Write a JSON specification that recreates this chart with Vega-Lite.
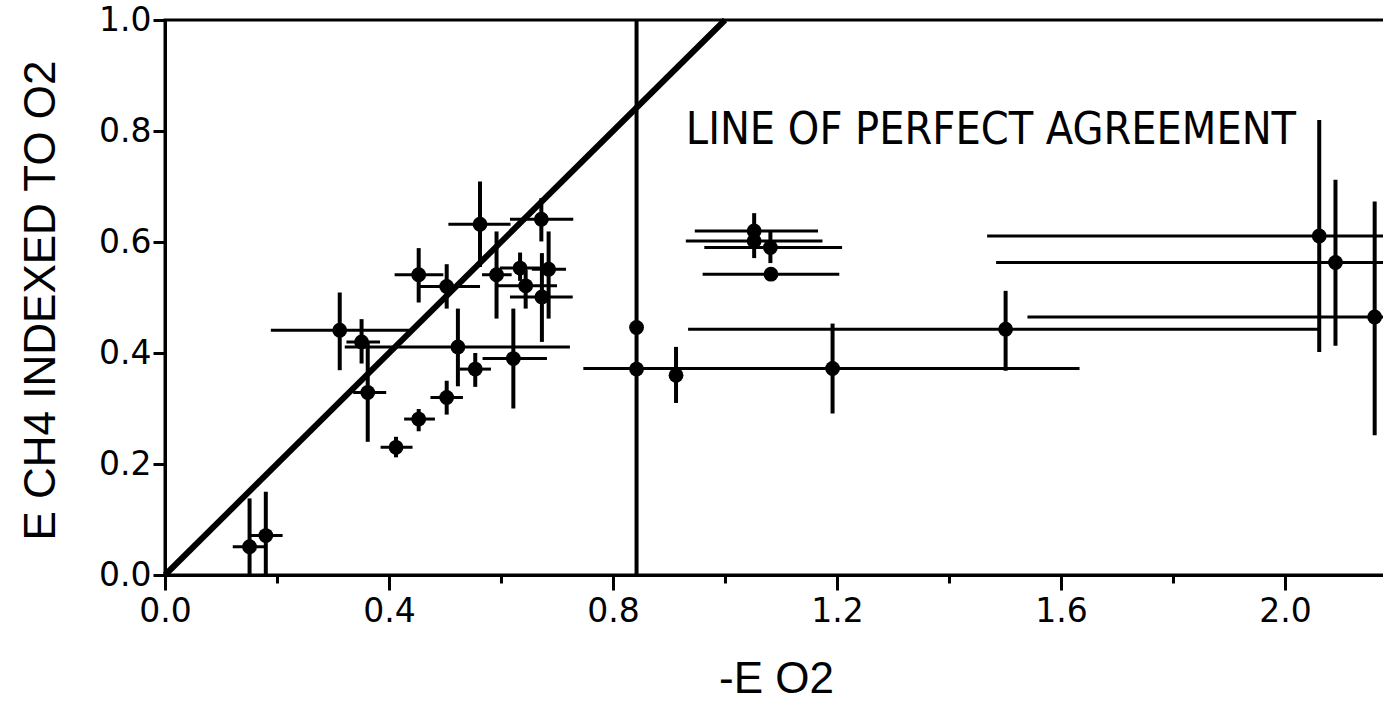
{
  "$schema": "https://vega.github.io/schema/vega-lite/v6.json",
  "width": 1222,
  "height": 555,
  "autosize": {"type": "none"},
  "padding": {"left": 165, "top": 20, "right": 0, "bottom": 128},
  "background": "white",
  "config": {
    "view": {"stroke": "black", "strokeWidth": 3},
    "axis": {"grid": false, "domainColor": "black", "domainWidth": 3, "tickColor": "black", "tickWidth": 3, "labelColor": "black", "titleColor": "black", "labelFont": "DejaVu Sans", "labelFontSize": 33, "titleFont": "Liberation Sans", "titleFontSize": 44, "titleFontWeight": "normal", "labelFlush": false, "labelOverlap": false}
  },
  "datasets": {
    "points": [
      {"x": 0.151, "y": 0.051, "xlo": 0.121, "xhi": 0.179, "ylo": -0.04, "yhi": 0.138},
      {"x": 0.180, "y": 0.071, "xlo": 0.152, "xhi": 0.210, "ylo": -0.01, "yhi": 0.150},
      {"x": 0.312, "y": 0.441, "xlo": 0.189, "xhi": 0.436, "ylo": 0.369, "yhi": 0.509},
      {"x": 0.351, "y": 0.420, "xlo": 0.324, "xhi": 0.384, "ylo": 0.381, "yhi": 0.461},
      {"x": 0.362, "y": 0.329, "xlo": 0.336, "xhi": 0.395, "ylo": 0.240, "yhi": 0.420},
      {"x": 0.4125, "y": 0.230, "xlo": 0.385, "xhi": 0.442, "ylo": 0.212, "yhi": 0.249},
      {"x": 0.453, "y": 0.281, "xlo": 0.427, "xhi": 0.482, "ylo": 0.259, "yhi": 0.299},
      {"x": 0.503, "y": 0.320, "xlo": 0.474, "xhi": 0.532, "ylo": 0.289, "yhi": 0.350},
      {"x": 0.453, "y": 0.541, "xlo": 0.410, "xhi": 0.497, "ylo": 0.491, "yhi": 0.589},
      {"x": 0.503, "y": 0.520, "xlo": 0.455, "xhi": 0.5625, "ylo": 0.480, "yhi": 0.560},
      {"x": 0.523, "y": 0.411, "xlo": 0.321, "xhi": 0.723, "ylo": 0.340, "yhi": 0.480},
      {"x": 0.554, "y": 0.371, "xlo": 0.526, "xhi": 0.582, "ylo": 0.339, "yhi": 0.400},
      {"x": 0.5625, "y": 0.632, "xlo": 0.506, "xhi": 0.617, "ylo": 0.555, "yhi": 0.709},
      {"x": 0.592, "y": 0.541, "xlo": 0.566, "xhi": 0.619, "ylo": 0.462, "yhi": 0.619},
      {"x": 0.622, "y": 0.390, "xlo": 0.567, "xhi": 0.682, "ylo": 0.300, "yhi": 0.480},
      {"x": 0.634, "y": 0.553, "xlo": 0.598, "xhi": 0.670, "ylo": 0.530, "yhi": 0.581},
      {"x": 0.644, "y": 0.521, "xlo": 0.592, "xhi": 0.700, "ylo": 0.480, "yhi": 0.550},
      {"x": 0.672, "y": 0.641, "xlo": 0.616, "xhi": 0.729, "ylo": 0.601, "yhi": 0.679},
      {"x": 0.673, "y": 0.501, "xlo": 0.616, "xhi": 0.728, "ylo": 0.420, "yhi": 0.580},
      {"x": 0.685, "y": 0.551, "xlo": 0.655, "xhi": 0.716, "ylo": 0.462, "yhi": 0.619},
      {"x": 0.842, "y": 0.446},
      {"x": 0.842, "y": 0.371, "ylo": 0.0, "yhi": 1.0},
      {"x": 0.9125, "y": 0.360, "ylo": 0.310, "yhi": 0.411},
      {"x": 1.052, "y": 0.620, "xlo": 0.946, "xhi": 1.166, "ylo": 0.590, "yhi": 0.652},
      {"x": 1.052, "y": 0.602, "xlo": 0.930, "xhi": 1.174, "ylo": 0.571, "yhi": 0.630},
      {"x": 1.081, "y": 0.590, "xlo": 0.963, "xhi": 1.209, "ylo": 0.562, "yhi": 0.619},
      {"x": 1.082, "y": 0.542, "xlo": 0.960, "xhi": 1.204},
      {"x": 1.192, "y": 0.372, "xlo": 0.747, "xhi": 1.633, "ylo": 0.291, "yhi": 0.453},
      {"x": 1.501, "y": 0.443, "xlo": 0.934, "xhi": 2.063, "ylo": 0.368, "yhi": 0.512},
      {"x": 2.061, "y": 0.611, "xlo": 1.468, "xhi": 2.650, "ylo": 0.402, "yhi": 0.820},
      {"x": 2.090, "y": 0.563, "xlo": 1.484, "xhi": 2.700, "ylo": 0.413, "yhi": 0.712},
      {"x": 2.160, "y": 0.465, "xlo": 1.540, "xhi": 2.780, "ylo": 0.252, "yhi": 0.673}
    ],
    "diag": [{"x": 0, "y": 0, "x2": 1, "y2": 1}],
    "note": [{"x": 0.930, "y": 0.777, "label": "LINE OF PERFECT AGREEMENT"}]
  },
  "layer": [
    {
      "data": {"name": "diag"},
      "mark": {"type": "rule", "strokeWidth": 6, "color": "black", "strokeCap": "butt"},
      "encoding": {
        "x": {"field": "x", "type": "quantitative", "title": "-E O2",
          "scale": {"domain": [0, 2.182], "nice": false, "zero": false},
          "axis": {
            "values": [0, 0.2, 0.4, 0.6, 0.8, 1.0, 1.2, 1.4, 1.6, 1.8, 2.0],
            "labelExpr": "round(datum.value*10) % 4 == 0 ? format(datum.value, '.1f') : ''",
            "tickSize": {"condition": {"test": "round(datum.value*10) % 4 == 0", "value": 15}, "value": 8},
            "labelPadding": 5,
            "titleX": 611, "titleY": 117, "titleBaseline": "alphabetic", "titleAlign": "center"
          }
        },
        "y": {"field": "y", "type": "quantitative", "title": "E CH4 INDEXED TO O2",
          "scale": {"domain": [0, 1], "nice": false, "zero": false},
          "axis": {
            "values": [0, 0.2, 0.4, 0.6, 0.8, 1.0],
            "format": ".1f",
            "tickSize": 12,
            "labelPadding": 2,
            "titleAngle": -90, "titleX": -111, "titleY": 280, "titleBaseline": "alphabetic", "titleAlign": "center"
          }
        },
        "x2": {"field": "x2"},
        "y2": {"field": "y2"}
      }
    },
    {
      "data": {"name": "points"},
      "transform": [{"filter": "isValid(datum.xlo)"}],
      "mark": {"type": "rule", "strokeWidth": 3, "color": "black", "clip": true},
      "encoding": {
        "x": {"field": "xlo", "type": "quantitative", "title": "-E O2"},
        "x2": {"field": "xhi"},
        "y": {"field": "y", "type": "quantitative", "title": "E CH4 INDEXED TO O2"}
      }
    },
    {
      "data": {"name": "points"},
      "transform": [{"filter": "isValid(datum.ylo)"}],
      "mark": {"type": "rule", "strokeWidth": 4, "color": "black", "clip": true},
      "encoding": {
        "x": {"field": "x", "type": "quantitative", "title": "-E O2"},
        "y": {"field": "ylo", "type": "quantitative", "title": "E CH4 INDEXED TO O2"},
        "y2": {"field": "yhi"}
      }
    },
    {
      "data": {"name": "points"},
      "mark": {"type": "circle", "size": 220, "color": "black", "opacity": 1},
      "encoding": {
        "x": {"field": "x", "type": "quantitative", "title": "-E O2"},
        "y": {"field": "y", "type": "quantitative", "title": "E CH4 INDEXED TO O2"}
      }
    },
    {
      "data": {"name": "note"},
      "mark": {"type": "text", "align": "left", "baseline": "alphabetic", "font": "Liberation Sans Narrow, DejaVu Sans Condensed, Liberation Sans", "fontSize": 44.5, "color": "black"},
      "encoding": {
        "x": {"field": "x", "type": "quantitative", "title": "-E O2"},
        "y": {"field": "y", "type": "quantitative", "title": "E CH4 INDEXED TO O2"},
        "text": {"field": "label"}
      }
    }
  ]
}
